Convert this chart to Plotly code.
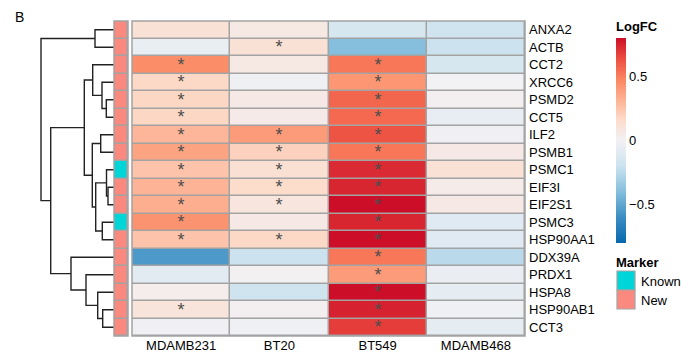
import plotly.graph_objects as go

W, H = 681, 354

genes = ["ANXA2", "ACTB", "CCT2", "XRCC6", "PSMD2", "CCT5", "ILF2", "PSMB1", "PSMC1",
         "EIF3I", "EIF2S1", "PSMC3", "HSP90AA1", "DDX39A", "PRDX1", "HSPA8", "HSP90AB1", "CCT3"]
cell_lines = ["MDAMB231", "BT20", "BT549", "MDAMB468"]

logfc_MDAMB231 = [0.12, -0.05, 0.45, 0.17, 0.18, 0.18, 0.30, 0.37, 0.25, 0.31, 0.33, 0.43, 0.25,
                  -0.55, -0.08, 0.03, 0.10, -0.01]
logfc_BT20 = [0.07, 0.12, 0.07, -0.02, 0.06, 0.05, 0.40, 0.20, 0.13, 0.16, 0.09, 0.06, 0.17,
              -0.20, 0.01, -0.18, 0.02, -0.02]
logfc_BT549 = [-0.15, -0.40, 0.52, 0.42, 0.57, 0.56, 0.62, 0.52, 0.73, 0.74, 0.80, 0.74, 0.80,
               0.52, 0.40, 0.80, 0.75, 0.68]
logfc_MDAMB468 = [-0.18, -0.20, -0.15, 0.00, 0.02, -0.06, -0.01, 0.06, 0.12, 0.04, 0.06, -0.10, -0.10,
                  -0.25, -0.04, -0.07, -0.02, -0.07]

sig_MDAMB231 = [0, 0, 1, 1, 1, 1, 1, 1, 1, 1, 1, 1, 1, 0, 0, 0, 1, 0]
sig_BT20 = [0, 1, 0, 0, 0, 0, 1, 1, 1, 1, 1, 0, 1, 0, 0, 0, 0, 0]
sig_BT549 = [0, 0, 1, 1, 1, 1, 1, 1, 1, 1, 1, 1, 1, 1, 1, 1, 1, 1]
sig_MDAMB468 = [0] * 18

marker = ["New", "New", "New", "New", "New", "New", "New", "New", "Known",
          "New", "New", "Known", "New", "New", "New", "New", "New", "New"]

# hierarchical clustering merges: (child a, child b, height); leaves 0..17, new nodes 18+
merges = [(9, 10, 6.0), (8, 18, 7.5), (4, 5, 7.7), (16, 17, 11.3), (11, 12, 11.7),
          (3, 20, 12.0), (6, 7, 13.3), (15, 21, 16.3), (19, 22, 18.3), (0, 1, 19.0),
          (2, 23, 21.3), (24, 26, 21.7), (14, 25, 28.0), (28, 29, 29.7), (13, 30, 43.0),
          (31, 32, 63.3), (27, 33, 73.0)]

colorscale = [
    [0.0, "#0868AC"], [0.125, "#3A8DC3"], [0.25, "#85BFDD"], [0.375, "#CCE3EF"],
    [0.5, "#F2F1F4"], [0.6, "#FCDCCB"], [0.7, "#FDB192"], [0.8, "#FB8560"],
    [0.9, "#EC4D40"], [1.0, "#CC0E28"]]
known_color, new_color = "#00D5D8", "#FA8A80"
grid_color = "#A3A3A3"
font_family = "Liberation Sans, Arial, sans-serif"

n = len(genes)
z = [[logfc_MDAMB231[i], logfc_BT20[i], logfc_BT549[i], logfc_MDAMB468[i]] for i in range(n)]
sigs = [sig_MDAMB231, sig_BT20, sig_BT549, sig_MDAMB468]
txt = [["*" if sigs[j][i] else "" for j in range(4)] for i in range(n)]

fig = go.Figure()

fig.add_trace(go.Heatmap(
    z=z, x=list(range(4)), y=list(range(n)), text=txt, texttemplate="%{text}",
    textfont=dict(size=18, color="#4D4D4D", family=font_family),
    colorscale=colorscale, zmin=-0.8, zmax=0.8, xgap=1.5, ygap=1.5,
    xaxis="x", yaxis="y", hoverinfo="skip",
    colorbar=dict(
        title=dict(text="<b>LogFC</b>", side="top", font=dict(size=13, family=font_family, color="#000")),
        x=616 / W, xanchor="left", y=1 - 18 / H, yanchor="top",
        len=225 / H, lenmode="fraction", thickness=10, xpad=0, ypad=0, outlinewidth=0,
        tickvals=[-0.5, 0, 0.5], ticktext=["\u22120.5", "0", "0.5"], ticks="",
        tickfont=dict(size=13, family=font_family, color="#000"))))

# marker annotation column
mz = [[1 if m == "Known" else 0] for m in marker]
fig.add_trace(go.Heatmap(
    z=mz, x=[0], y=list(range(n)), colorscale=[[0, new_color], [1, known_color]],
    zmin=0, zmax=1, showscale=False, xgap=1.5, ygap=1.5, xaxis="x3", yaxis="y", hoverinfo="skip"))

# dendrogram
ypos = {i: float(i) for i in range(n)}
hgt = {i: 0.0 for i in range(n)}
lx, ly = [], []
for k, (a, b, h) in enumerate(merges):
    node = n + k
    lx += [hgt[a], h, h, hgt[b], None]
    ly += [ypos[a], ypos[a], ypos[b], ypos[b], None]
    ypos[node] = (ypos[a] + ypos[b]) / 2
    hgt[node] = h
fig.add_trace(go.Scatter(x=lx, y=ly, mode="lines", line=dict(color="#222", width=1.4),
                         xaxis="x2", yaxis="y", hoverinfo="skip", showlegend=False))

def px(v):
    return v / W

def py(v):
    return 1 - v / H

ydom = [py(336), py(21)]
fig.update_layout(
    width=W, height=H, margin=dict(l=0, r=0, t=0, b=0, autoexpand=False),
    paper_bgcolor="white", plot_bgcolor="white", showlegend=False,
    font=dict(family=font_family, size=13, color="#000"),
    xaxis=dict(domain=[px(132), px(525)], range=[-0.5, 3.5], tickvals=list(range(4)),
               ticktext=cell_lines, showgrid=False, zeroline=False, ticks="",
               tickfont=dict(size=13), anchor="y", automargin=False),
    yaxis=dict(domain=ydom, range=[n - 0.5, -0.5], tickvals=list(range(n)), ticktext=genes,
               side="right", showgrid=False, zeroline=False, ticks="", anchor="x",
               tickfont=dict(size=13), ticklabelstandoff=3, automargin=False),
    xaxis2=dict(domain=[px(40), px(114)], range=[74, 0], visible=False, anchor="y", automargin=False),
    xaxis3=dict(domain=[px(114), px(128)], range=[-0.5, 0.5], visible=False, anchor="y", automargin=False),
)

shapes = []
for ax in ["x", "x3"]:
    shapes.append(dict(type="rect", xref=ax + " domain", yref="y domain", x0=0, x1=1, y0=0, y1=1,
                       fillcolor=grid_color, line=dict(width=0), layer="below"))
    shapes.append(dict(type="rect", xref=ax + " domain", yref="y domain", x0=0, x1=1, y0=0, y1=1,
                       fillcolor="rgba(0,0,0,0)", line=dict(width=1.5, color=grid_color), layer="above"))
# marker legend keys
shapes.append(dict(type="rect", xref="paper", yref="paper", x0=px(617), x1=px(635), y0=py(290), y1=py(271),
                   fillcolor=known_color, line=dict(width=1.2, color=grid_color)))
shapes.append(dict(type="rect", xref="paper", yref="paper", x0=px(617), x1=px(635), y0=py(309), y1=py(290),
                   fillcolor=new_color, line=dict(width=1.2, color=grid_color)))
fig.update_layout(shapes=shapes)

annots = [
    dict(text="B", x=px(13), y=py(17), xanchor="left", yanchor="middle", font=dict(size=14)),
    dict(text="<b>Marker</b>", x=px(614), y=py(262), xanchor="left", yanchor="middle", font=dict(size=13)),
    dict(text="Known", x=px(639), y=py(281), xanchor="left", yanchor="middle", font=dict(size=13)),
    dict(text="New", x=px(639), y=py(300), xanchor="left", yanchor="middle", font=dict(size=13)),
]
for a in annots:
    a.update(xref="paper", yref="paper", showarrow=False)
fig.update_layout(annotations=annots)

fig.write_html("out.html", config={"displayModeBar": False},
               post_script="document.body.style.margin='0';document.body.style.padding='0';")
